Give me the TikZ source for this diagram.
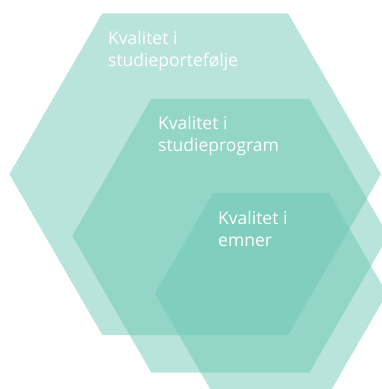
\documentclass[tikz,border=0pt]{standalone}
\usepackage{fontspec}
\setmainfont{Open Sans}
\usepackage{xcolor}
\definecolor{hexteal}{RGB}{106,198,178}
\tikzset{hexfill/.style={fill=hexteal,fill opacity=0.47}}
\tikzset{label/.style={text=white,align=left,inner sep=0pt,anchor=north west,font=\fontsize{17.5}{21.5}\selectfont}}
\newcommand{\hexa}[2]{\fill[hexfill] (#1) +(0:#2) -- +(60:#2) -- +(120:#2) -- +(180:#2) -- +(240:#2) -- +(300:#2) -- cycle;}

\begin{document}
\begin{tikzpicture}[x=1pt,y=-1pt]
    \useasboundingbox (0,0) rectangle (382,389);
    \clip (0,0) rectangle (382,389);
    \coordinate (portfolio) at (195.2,174.2);
    \coordinate (program) at (230.3,235.8);
    \coordinate (emne) at (271,293.5);
    \hexa{portfolio}{185.8}
    \hexa{program}{158}
    \hexa{emne}{116}
    \node at (108,31.5) [label] (portfolio_txt) {Kvalitet i\\studieportefølje};
    \node at (158,116.5) [label] (program_txt) {Kvalitet i\\studieprogram};
    \node at (218,211.5) [label] (emne_txt) {Kvalitet i\\emner};
  \end{tikzpicture}
\end{document}
